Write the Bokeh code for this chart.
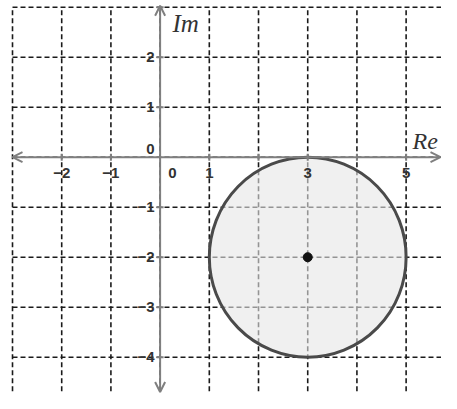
from bokeh.plotting import figure
from bokeh.models import Range1d, Arrow, OpenHead
from bokeh.core.properties import value
from bokeh.embed import file_html
from bokeh.resources import INLINE

# grid values
grid_x = [-3, -2, -1, 0, 1, 2, 3, 4, 5]
grid_y = [3, 2, 1, 0, -1, -2, -3, -4, -5]
x_min, x_max = -3.244, 5.719
y_min, y_max = -4.726, 3.134

# tick labels
x_tick_vals = [-2, -1, 1, 3, 5]
x_tick_text = ["\u22122", "\u22121", "1", "3", "5"]
y_tick_vals = [2, 1, -1, -2, -3, -4]
y_tick_text = ["2", "1", "\u22121", "\u22122", "\u22123", "\u22124"]

# circle |z - (3 - 2i)| <= 2
center_re = [3]
center_im = [-2]
radius = 2

p = figure(width=441, height=393, output_backend="svg", toolbar_location=None,
           x_range=Range1d(x_min, x_max), y_range=Range1d(y_min, y_max),
           min_border=0, outline_line_color=None)
p.xaxis.visible = False
p.yaxis.visible = False
p.xgrid.visible = False
p.ygrid.visible = False
p.background_fill_color = "white"

grid_color = "#1a1a1a"
# vertical dashed grid lines
p.segment(x0=grid_x, y0=[grid_y[-1]] * len(grid_x), x1=grid_x, y1=[grid_y[0]] * len(grid_x),
          line_color=grid_color, line_width=1.6, line_dash="5 3")
# horizontal dashed grid lines
p.segment(x0=[grid_x[0]] * len(grid_y), y0=grid_y, x1=[x_max] * len(grid_y), y1=grid_y,
          line_color=grid_color, line_width=1.6, line_dash="5 3")

# disc
p.ellipse(x=center_re, y=center_im, width=2 * radius, height=2 * radius,
          fill_color="#e6e6e6", fill_alpha=0.6, line_color="#4a4a4a", line_width=3)

# axes with arrows
axis_color = "#7f7f7f"
p.add_layout(Arrow(x_start=grid_x[0], y_start=0, x_end=x_max - 0.02, y_end=0,
                   line_color=axis_color, line_width=2,
                   start=OpenHead(size=10, line_color=axis_color, line_width=2),
                   end=OpenHead(size=10, line_color=axis_color, line_width=2)))
p.add_layout(Arrow(x_start=0, y_start=y_min + 0.03, x_end=0, y_end=grid_y[0] + 0.03,
                   line_color=axis_color, line_width=2,
                   start=OpenHead(size=10, line_color=axis_color, line_width=2),
                   end=OpenHead(size=10, line_color=axis_color, line_width=2)))

# small tick marks on axes
xt = [v for v in grid_x if v != 0 and v > grid_x[0]]
yt = [v for v in grid_y if v != 0 and v > grid_y[-1]]
p.scatter(x=xt, y=[0] * len(xt), marker="dash",
          angle=1.5708, size=7, line_color=axis_color, line_width=2)
p.scatter(x=[0] * len(yt), y=yt, marker="dash",
          size=7, line_color=axis_color, line_width=2)

# center point
p.scatter(x=center_re, y=center_im, size=9, fill_color="#111111", line_color="#111111")

# tick labels
font = value("Liberation Sans")
lab = dict(text_font=font, text_font_size="15px", text_font_style="bold",
           text_color="#333333", text_baseline="middle")
p.text(x=x_tick_vals, y=[-0.32] * len(x_tick_vals), text=x_tick_text, text_align="center", **lab)
p.text(x=[0.25], y=[-0.32], text=["0"], text_align="center", **lab)
p.text(x=[-0.11] * len(y_tick_vals), y=y_tick_vals, text=y_tick_text, text_align="right", **lab)
p.text(x=[-0.11], y=[0.17], text=["0"], text_align="right", **lab)

# axis names
serif = value("Liberation Serif")
p.text(x=[0.25], y=[2.68], text=["Im"], text_font=serif, text_font_size="25px",
       text_font_style="italic", text_color="#333333", text_align="left", text_baseline="middle")
p.text(x=[5.13], y=[0.33], text=["Re"], text_font=serif, text_font_size="24px",
       text_font_style="italic", text_color="#333333", text_align="left", text_baseline="middle")

open("out.html", "w").write(file_html(p, INLINE))
